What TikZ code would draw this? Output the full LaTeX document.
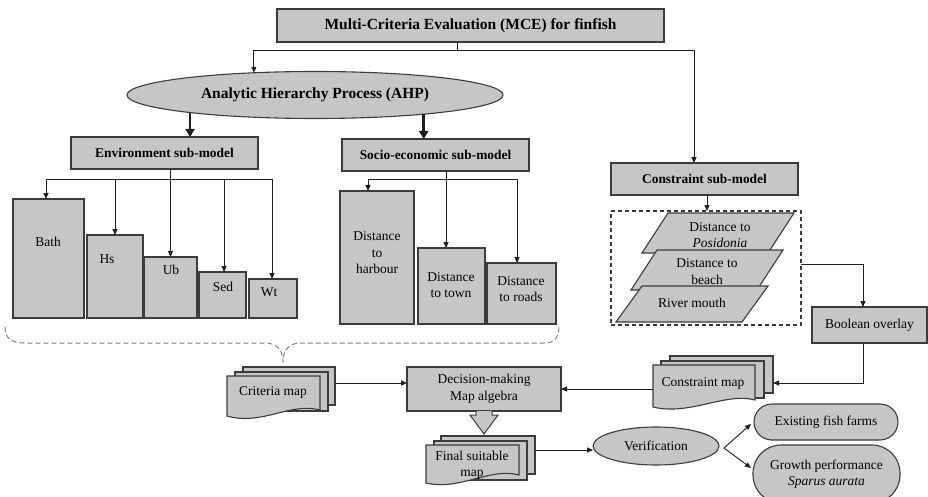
\documentclass[tikz,border=0pt]{standalone}
\usepackage{fontspec}
\setmainfont{Liberation Serif}
\usetikzlibrary{shapes.geometric,arrows.meta,calc}
\definecolor{boxfill}{HTML}{C6C6C6}
\definecolor{edge}{HTML}{3C3C3C}
\definecolor{wire}{HTML}{1E1E1E}
\newcommand{\rbox}[7][]{\node[box,minimum width={#5-#3},minimum height={#6-#4},#1] (#2) at ({(#3+#5)/2},{(#4+#6)/2}) {#7};}
\begin{document}
\begin{tikzpicture}[x=1pt,y=-1pt,
  box/.style={draw=edge,fill=boxfill,line width=1.1pt,inner sep=0pt,outer sep=0pt},
  lbl/.style={font=\fontsize{13.5}{16.5}\selectfont,align=center,inner sep=0pt},
  blbl/.style={font=\fontsize{13.4}{16}\selectfont\bfseries,align=center},
  ttl/.style={font=\fontsize{15.5}{18}\selectfont\bfseries,align=center},
  wireline/.style={draw=wire,line width=0.9pt},
  arr/.style={wireline,-{Triangle[length=6pt,width=5pt]}},
  fat/.style={draw=wire,line width=2.6pt,-{Triangle[length=8pt,width=9pt]}},
  bracestyle/.style={draw=gray,line width=1pt,dash pattern=on 5pt off 3pt},
]
\useasboundingbox (0,0) rectangle (928,497);

% top level
\rbox[ttl]{mce}{277}{9}{664}{42}{Multi-Criteria Evaluation (MCE) for finfish}
\node[box,ellipse,minimum width=376,minimum height=47,ttl] (ahp) at (315,95) {Analytic Hierarchy Process (AHP)};
\rbox[blbl]{env}{71}{137}{258}{169}{Environment sub-model}
\rbox[blbl]{soc}{342}{139}{529}{171}{Socio-economic sub-model}
\rbox[blbl]{cons}{611}{163}{798}{195}{Constraint sub-model}

% environment criteria
\rbox{bath}{13}{199}{84}{318}{}
\rbox{hs}{87}{235}{143}{318}{}
\rbox{ub}{144}{257}{197}{318}{}
\rbox{sed}{199}{272}{246}{318}{}
\rbox{wt}{249}{279}{297}{318}{}
\node[lbl] (bathl) at (48,242) {Bath};
\node[lbl] (hsl) at (107,259) {Hs};
\node[lbl] (ubl) at (171,270) {Ub};
\node[lbl] (sedl) at (223,287) {Sed};
\node[lbl] (wtl) at (269,292) {Wt};

% socio-economic criteria
\rbox{harb}{340}{191}{414}{324}{}
\rbox{town}{418}{248}{485}{324}{}
\rbox{roads}{487}{263}{556}{324}{}
\node[lbl] (harbl) at (377,253) {Distance\\to\\harbour};
\node[lbl] (townl) at (451,285) {Distance\\to town};
\node[lbl] (roadsl) at (521,289) {Distance\\to roads};

% constraint layers
\rbox[fill=none,draw=edge,line width=1.3pt,dash pattern=on 4pt off 3pt]{cbox}{611}{211}{801}{325}{}
\draw[box] (668,213) -- (794,213) -- (768,253) -- (642,253) -- cycle;
\node[lbl] (posl) at (720,235) {Distance to\\\textit{Posidonia}};
\draw[box] (657,250) -- (783,250) -- (757,290) -- (631,290) -- cycle;
\node[lbl] (beachl) at (707,271.5) {Distance to\\beach};
\draw[box] (642,286) -- (768,286) -- (742,322) -- (616,322) -- cycle;
\node[lbl] (riverl) at (692,303) {River mouth};

\rbox[lbl]{bool}{812}{307}{927}{343}{Boolean overlay}

% brace
\draw[bracestyle] (5,327) .. controls (5,339) and (12,343) .. (25,343) -- (265,343)
  .. controls (277,343) and (283,350) .. (283,362)
  .. controls (283,350) and (289,343) .. (301,343) -- (545,343)
  .. controls (555,343) and (559,337) .. (559,325);

% criteria map stack
\rbox{crit3}{243}{367}{335}{405}{}
\rbox{crit2}{235}{372}{328}{411}{}
\draw[box] (227,376) -- (320,376) -- (320,410) .. controls (290,402) and (262,426) .. (227,416) -- cycle;
\node[lbl] (crit) at (273,392) {Criteria map};

% constraint map stack
\rbox{cm3}{670}{356}{773}{393}{}
\rbox{cm2}{661}{361}{764}{398}{}
\draw[box] (653,365) -- (755,365) -- (755,400) .. controls (725,392) and (690,416) .. (653,407) -- cycle;
\node[lbl] (cmap) at (703,383) {Constraint map};

% decision
\rbox[lbl]{dec}{407}{367}{561}{411}{Decision-making\\Map algebra}

% hollow arrow
\draw[box,line width=1pt] (476,411) -- (476,415) -- (470,415) -- (484,434) -- (498,415) -- (492,415) -- (492,411);

% final map stack
\rbox{fm3}{441}{436}{535}{474}{}
\rbox{fm2}{434}{441}{527}{480}{}
\draw[box] (426,445) -- (519,445) -- (519,475) .. controls (490,467) and (460,491) .. (426,483) -- cycle;
\node[lbl] (fmap) at (472,465) {Final suitable\\map};

% verification
\node[box,ellipse,minimum width=126,minimum height=38,lbl] (ver) at (656,446) {Verification};
\node[box,rounded corners=18pt,minimum width=144,minimum height=36,lbl] (exist) at (826,422) {Existing fish farms};
\node[box,rounded corners=28pt,minimum width=147,minimum height=58,lbl] (grow) at (826.5,474) {Growth performance\\\textit{Sparus aurata}};

% connectors
\coordinate (j) at (457,50);
\draw[wireline] ([xshift=-13.5pt]mce.south) -- (j);
\draw[arr] (j) -| (ahp.160);
\draw[arr] (j) -| ([xshift=-10.5pt]cons.north);
\draw[fat] (ahp.188) -- (ahp.188 |- env.north);
\draw[fat] (ahp.350) -- (ahp.350 |- soc.north);

\coordinate (eb) at (0,179);
\draw[arr] (ub.north |- env.south) -- (ub.north);
\draw[wireline] ([xshift=-2.5pt]bath.north |- eb) -- ([xshift=-1pt]wt.north |- eb);
\draw[arr] ([xshift=-2.5pt]bath.north |- eb) -- ([xshift=-2.5pt]bath.north);
\draw[arr] (hs.north |- eb) -- (hs.north);
\draw[arr] ([xshift=1.5pt]sed.north |- eb) -- ([xshift=1.5pt]sed.north);
\draw[arr] ([xshift=-1pt]wt.north |- eb) -- ([xshift=-1pt]wt.north);

\draw[arr] ([xshift=-5.5pt]town.north |- soc.south) -- ([xshift=-5.5pt]town.north);
\draw[wireline] ([xshift=-9pt]harb.north |- eb) -- ([xshift=-4.5pt]roads.north |- eb);
\draw[arr] ([xshift=-9pt]harb.north |- eb) -- ([xshift=-9pt]harb.north);
\draw[arr] ([xshift=-4.5pt]roads.north |- eb) -- ([xshift=-4.5pt]roads.north);

\draw[arr] ([xshift=2.5pt]cons.south) -- ([xshift=2.5pt]cons.south |- cbox.north);
\draw[arr] ([yshift=4pt]cbox.east) -| ([xshift=-6.5pt]bool.north);
\draw[arr] ([xshift=-6.5pt]bool.south) |- (cm3.east |- cmap);
\coordinate (cmL) at (653,389);
\draw[arr] (cmL) -- (dec.east |- cmL);
\coordinate (critR) at (335,383);
\draw[arr] (critR) -- (dec.west |- critR);
\coordinate (vw) at ([yshift=-4pt]ver.west);
\draw[arr] (fm3.east |- vw) -- (vw);
\coordinate (vs) at ([xshift=5pt,yshift=-2pt]ver.east);
\draw[arr] (vs) -- ([xshift=-3pt,yshift=-2pt]exist.west);
\draw[arr] (vs) -- ([xshift=-2pt,yshift=6pt]grow.west);
\end{tikzpicture}
\end{document}
